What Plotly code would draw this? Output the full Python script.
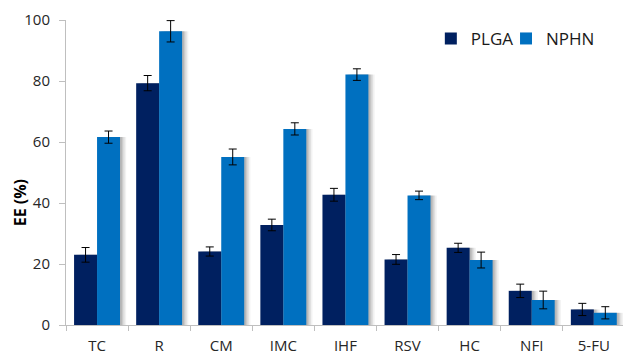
import plotly.graph_objects as go

categories = ["TC", "R", "CM", "IMC", "IHF", "RSV", "HC", "NFI", "5-FU"]
plga = [23.0, 79.3, 24.1, 32.8, 42.7, 21.5, 25.3, 11.2, 5.1]
plga_err = [2.4, 2.5, 1.5, 1.9, 2.1, 1.6, 1.5, 2.2, 2.0]
nphn = [61.6, 96.3, 55.1, 64.3, 82.1, 42.5, 21.3, 8.2, 4.0]
nphn_err = [2.0, 3.5, 2.6, 2.0, 1.9, 1.4, 2.6, 2.9, 2.0]
y_ticks = [0, 20, 40, 60, 80, 100]

C_PLGA = "#002060"
C_NPHN = "#0070C0"
W = 0.37

fig = go.Figure()

# soft drop shadows
for shift, alpha in [(0.1, 0.05), (0.075, 0.07), (0.05, 0.09), (0.03, 0.10)]:
    for vals, off in [(plga, -W), (nphn, 0.0)]:
        fig.add_trace(go.Bar(
            x=categories, y=vals, offset=off + shift, width=W,
            marker=dict(color=f"rgba(0,0,0,{alpha})", line=dict(width=0)),
            showlegend=False, hoverinfo="skip"))

fig.add_trace(go.Bar(
    name="PLGA", x=categories, y=plga, offset=-W, width=W,
    marker=dict(color=C_PLGA, line=dict(width=0)), legend="legend",
    error_y=dict(type="data", array=plga_err, color="#000000", thickness=1, width=4)))
fig.add_trace(go.Bar(
    name="NPHN", x=categories, y=nphn, offset=0.0, width=W,
    marker=dict(color=C_NPHN, line=dict(width=0)), legend="legend2",
    error_y=dict(type="data", array=nphn_err, color="#000000", thickness=1, width=4)))

leg_common = dict(orientation="h", y=0.938, xanchor="left", yanchor="middle",
                  font=dict(size=17, color="#1a1a1a"), bgcolor="rgba(0,0,0,0)",
                  itemwidth=30)

fig.update_layout(
    width=623, height=356,
    margin=dict(l=66, r=0, t=20, b=31),
    barmode="overlay",
    plot_bgcolor="white", paper_bgcolor="white",
    font=dict(family="Open Sans", size=15, color="#404040"),
    showlegend=True,
    legend=dict(x=0.655, **leg_common),
    legend2=dict(x=0.79, **leg_common),
    annotations=[dict(text="<b>EE (%)</b>", textangle=-90, xref="paper", yref="paper",
                      x=-0.082, y=0.4, xanchor="center", yanchor="middle", showarrow=False,
                      font=dict(size=16, color="#000000"))],
)
fig.update_xaxes(
    type="category", range=[-0.5, 8.47], showline=True, linecolor="#BFBFBF", linewidth=1,
    ticks="outside", tickson="boundaries", ticklen=5, tickcolor="#BFBFBF",
    showgrid=False, ticklabelstandoff=7, tickfont=dict(size=15, color="#262626"))
fig.update_yaxes(
    range=[0, 100], tickvals=y_ticks, showline=True, linecolor="#BFBFBF", linewidth=1,
    ticks="outside", ticklen=6, tickcolor="#BFBFBF", showgrid=False, zeroline=False,
    ticklabelstandoff=6, tickfont=dict(size=15, color="#262626"))

fig.write_html("out.html")
